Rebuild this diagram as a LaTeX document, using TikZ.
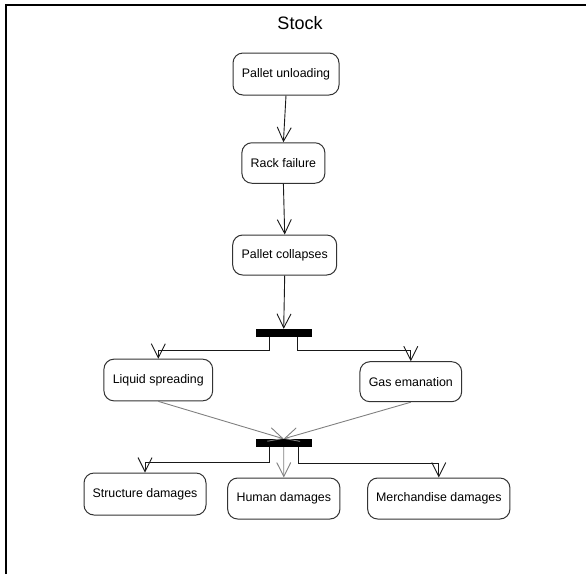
\documentclass[tikz,border=0pt]{standalone}
\usepackage{fontspec}
\setmainfont{Liberation Sans}
\usetikzlibrary{arrows.meta,calc}
\begin{document}
\begin{tikzpicture}[x=1pt,y=-1pt,
  act/.style={draw=black!80, line width=1pt, rounded corners=10pt,
    font=\fontsize{12.4}{14}\selectfont, inner sep=0pt},
  bar/.style={fill=black, draw=none, minimum width=56pt, minimum height=8pt, inner sep=0pt},
  flow/.style={draw=black!90, line width=0.9pt, -{Straight Barb[length=14pt,width=14pt]}},
  gflow/.style={flow, draw=black!50},
]
\useasboundingbox (0,0) rectangle (586,574);
% frame of the diagram
\draw[line width=1.3pt] (6,574) -- (6,5) -- (586,5);
\node[font=\fontsize{18}{20}\selectfont] (title) at (300,23) {Stock};

% activities
\node[act, minimum width=106pt, minimum height=42pt] (pu) at (286,74) {Pallet unloading};
\node[act, minimum width=83pt, minimum height=40.5pt] (rf) at (283.4,163) {Rack failure};
\node[act, minimum width=104pt, minimum height=40pt] (pc) at (284.7,255) {Pallet collapses};
\node[bar] (fork) at (283.7,333) {};
\node[act, minimum width=108.7pt, minimum height=41.7pt] (ls) at (158.3,380) {Liquid spreading};
\node[act, minimum width=101.7pt, minimum height=40pt] (ge) at (410.8,381.7) {Gas emanation};
\node[bar] (join) at (283.7,443) {};
\node[act, minimum width=122pt, minimum height=42pt] (sd) at (145,494) {Structure damages};
\node[act, minimum width=112.3pt, minimum height=41pt] (hd) at (283.8,498.5) {Human damages};
\node[act, minimum width=142.3pt, minimum height=41pt] (md) at (438.8,498.5) {Merchandise damages};

% transitions
\draw[flow] (pu.south) -- (rf.north);
\draw[flow] (rf.south) -- (pc.north);
\draw[flow] (pc.south) -- (fork.north);
\draw[flow] ($(fork.south)+(-14,0)$) -- ++(0,13.5) -| (ls.north);
\draw[flow] ($(fork.south)+(14,0)$) -- ++(0,13.5) -| (ge.north);
\draw[gflow] (ls.south) -- (join.north);
\draw[gflow] (ge.south) -- (join.north);
\draw[flow] ($(join.south)+(-14,0)$) -- ++(0,15) -| (sd.north);
\draw[gflow] (join.south) -- (hd.north);
\draw[flow] ($(join.south)+(15,0)$) -- ++(0,16) -| (md.north);
\end{tikzpicture}
\end{document}
